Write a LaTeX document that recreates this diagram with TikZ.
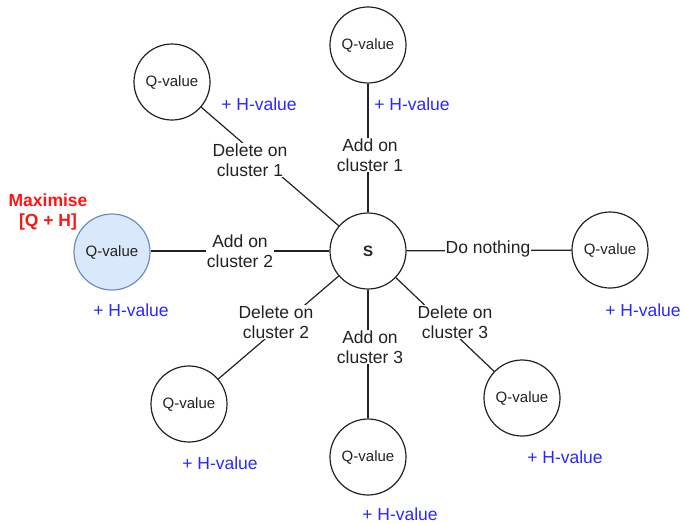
\documentclass[tikz,border=0pt]{standalone}
\usepackage{fontspec}
\setmainfont{Liberation Sans}
\definecolor{hblue}{RGB}{40,40,255}
\definecolor{maxred}{RGB}{255,20,20}
\definecolor{qfill}{HTML}{DAE8FC}
\definecolor{qdraw}{HTML}{6C8EBF}
\definecolor{ink}{HTML}{222222}
\begin{document}
\begin{tikzpicture}[x=1pt,y=-1pt,
  state/.style={circle,draw=ink,line width=1.2pt,minimum size=76pt,inner sep=0pt,
    font=\fontsize{15}{18}\selectfont,text=ink},
  chosen/.style={state,fill=qfill,draw=qdraw},
  edge/.style={draw=ink,line width=1.2pt},
  act/.style={fill=white,inner sep=1pt,align=center,text=ink,
    font=\fontsize{17.5}{20}\selectfont},
  hval/.style={text=hblue,inner sep=0pt,font=\fontsize{17.5}{20}\selectfont}]
\useasboundingbox (0,0) rectangle (684,523);

% central state and the successor states
\node[state,font=\fontsize{15}{18}\selectfont\bfseries] (s) at (368,251) {S};
\node[state] (qtl) at (172,82) {Q-value};
\node[state] (qt)  at (368,45) {Q-value};
\node[chosen] (ql) at (112,252) {Q-value};
\node[state] (qr)  at (610,250) {Q-value};
\node[state] (qbl) at (189,404) {Q-value};
\node[state] (qb)  at (368,457) {Q-value};
\node[state] (qbr) at (522,398) {Q-value};

% actions
\draw[edge] (s) -- (qtl);
\draw[edge] (s) -- (qt);
\draw[edge] (s.west) -- (ql.east |- s.west);
\draw[edge] (s) -- (qr);
\draw[edge] (s) -- (qbl);
\draw[edge] (s) -- (qb);
\draw[edge] (s) -- (qbr);

\node[act] (a1) at (250,160) {Delete on\\cluster 1};
\node[act] (a2) at (370,155) {Add on\\cluster 1};
\node[act] (a3) at (240,251) {Add on\\cluster 2};
\node[act] (a4) at (488,249) {Do nothing};
\node[act] (a5) at (276,322) {Delete on\\cluster 2};
\node[act] (a6) at (370,347) {Add on\\cluster 3};
\node[act] (a7) at (455,322) {Delete on\\cluster 3};

% heuristic terms
\node[hval] (h1) at (259,104) {+ H-value};
\node[hval] (h2) at (412,104) {+ H-value};
\node[hval] (h3) at (131,310) {+ H-value};
\node[hval] (h4) at (643,310) {+ H-value};
\node[hval] (h5) at (220,463) {+ H-value};
\node[hval] (h6) at (400,514) {+ H-value};
\node[hval] (h7) at (565,457) {+ H-value};

\node[text=maxred,align=center,inner sep=0pt,
  font=\fontsize{17.5}{20}\selectfont\bfseries] (mx) at (48,212) {Maximise\\{[Q + H]}};
\end{tikzpicture}
\end{document}
